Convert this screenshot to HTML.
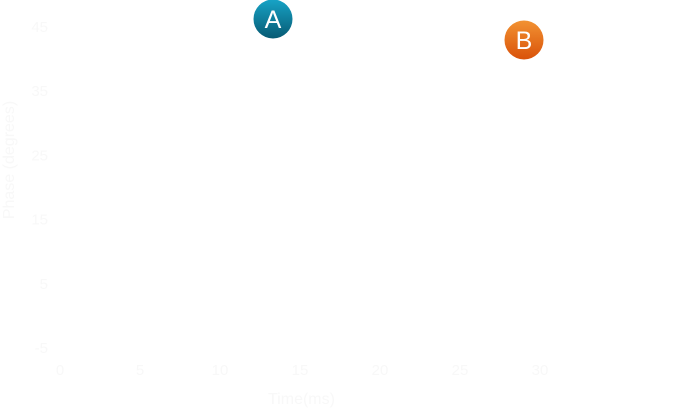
<!DOCTYPE html>
<html><head><meta charset="utf-8"><style>
html,body{margin:0;padding:0;background:#fff;width:674px;height:412px;overflow:hidden;font-family:"Liberation Sans",sans-serif}
</style></head><body>
<svg id="chart" width="674" height="412" xmlns="http://www.w3.org/2000/svg">
<defs>
<linearGradient id="ga" x1="0" y1="0" x2="0" y2="1"><stop offset="0" stop-color="#17a3c6"/><stop offset="1" stop-color="#075a73"/></linearGradient>
<linearGradient id="gb" x1="0" y1="0" x2="0" y2="1"><stop offset="0" stop-color="#f29232"/><stop offset="1" stop-color="#d9520a"/></linearGradient>
</defs>
<g id="axes"></g>
<text transform="translate(14,160) rotate(-90)" text-anchor="middle" font-size="16" fill="#f8f8f8">Phase (degrees)</text>
<text x="268" y="404" font-size="16" fill="#f8f8f8">Time(ms)</text>
<g><circle cx="273" cy="19" r="19.5" fill="url(#ga)"/><text x="273" y="28" text-anchor="middle" font-size="25" fill="#fff">A</text></g>
<g><circle cx="524" cy="40" r="19.5" fill="url(#gb)"/><text x="524" y="49" text-anchor="middle" font-size="25" fill="#fff">B</text></g>
</svg>
<script>
const xTicks=[0,5,10,15,20,25,30];
const yTicks=[45,35,25,15,5,-5];
function xs(v){return 60+v*16;}
function ys(v){return 348-(v+5)*6.42;}
const g=document.getElementById('axes');
const NS='http://www.w3.org/2000/svg';
xTicks.forEach(v=>{const t=document.createElementNS(NS,'text');


t.setAttribute('x',xs(v));t.setAttribute('y',375);t.setAttribute('text-anchor','middle');t.setAttribute('font-size','15');t.setAttribute('fill','#f8f8f8');t.textContent=v;g.appendChild(t);});
yTicks.forEach(v=>{const t=document.createElementNS(NS,'text');


t.setAttribute('x',48);t.setAttribute('y',ys(v)+5);t.setAttribute('text-anchor','end');t.setAttribute('font-size','15');t.setAttribute('fill','#f8f8f8');t.textContent=v;g.appendChild(t);});
</script>
</body></html>
